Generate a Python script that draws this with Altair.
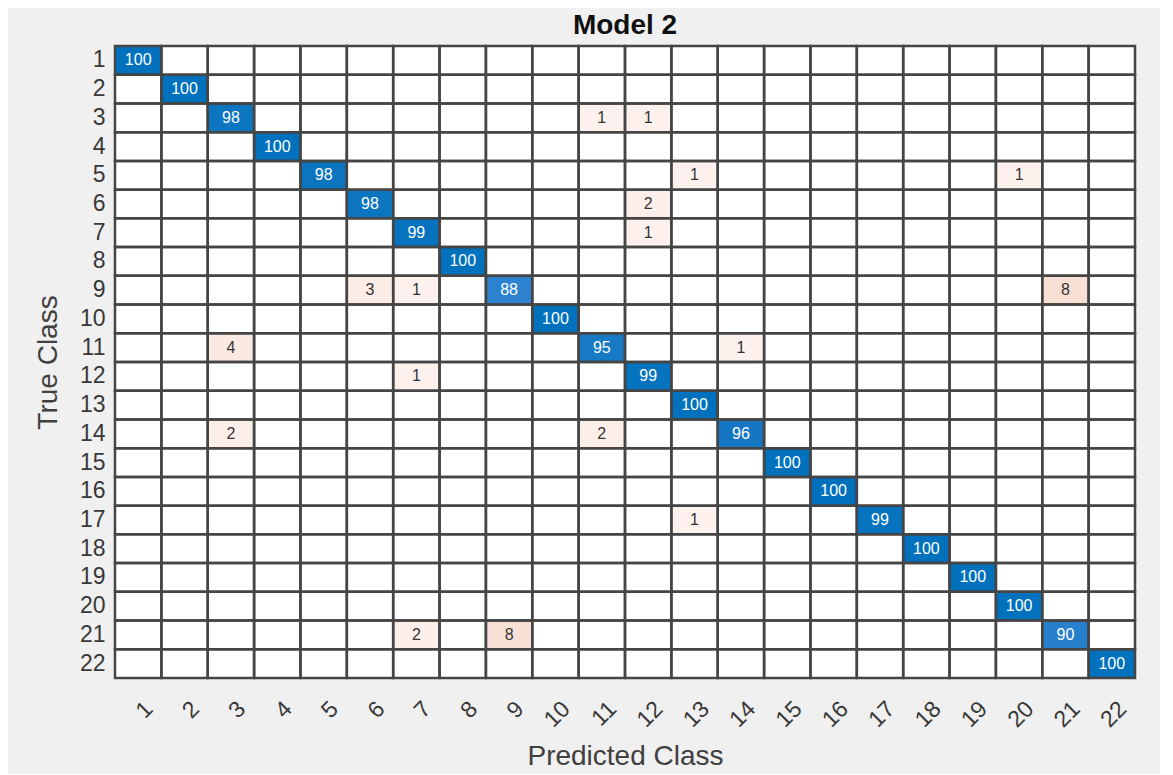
import altair as alt
import pandas as pd

classes = [str(i) for i in range(1, 23)]
diag_values = [100, 100, 98, 100, 98, 98, 99, 100, 88, 100, 95, 99, 100, 96,
               100, 100, 99, 100, 100, 100, 90, 100]
off_true = [3, 3, 5, 5, 6, 7, 9, 9, 9, 11, 11, 12, 14, 14, 17, 21, 21]
off_pred = [11, 12, 13, 20, 12, 12, 6, 7, 21, 3, 14, 7, 3, 11, 13, 7, 9]
off_values = [1, 1, 1, 1, 2, 1, 3, 1, 8, 4, 1, 1, 2, 2, 1, 2, 8]

FONT = "Liberation Sans"

grid = pd.DataFrame([{"true": t, "pred": p} for t in classes for p in classes])
diag = pd.DataFrame({"true": classes, "pred": classes, "value": diag_values})
off = pd.DataFrame({"true": [str(v) for v in off_true],
                    "pred": [str(v) for v in off_pred],
                    "value": off_values})

x_enc = alt.X(
    "pred:O", sort=classes,
    scale=alt.Scale(paddingInner=0, paddingOuter=0),
    axis=alt.Axis(
        title="Predicted Class", labelAngle=315, labelAlign="right",
        labelBaseline="middle", labelPadding=27, labelOffset=11,
        ticks=False, domain=False, grid=False, labelOverlap=False,
        labelFont=FONT, labelFontSize=23, labelColor="#383838",
        titleFont=FONT, titleFontSize=28, titleFontWeight="normal",
        titleColor="#404040", titleX=510, titleY=86, titleAlign="center",
        titleBaseline="alphabetic",
    ),
)
y_enc = alt.Y(
    "true:O", sort=classes,
    scale=alt.Scale(paddingInner=0, paddingOuter=0),
    axis=alt.Axis(
        title="True Class", labelPadding=10, ticks=False, domain=False,
        grid=False, labelOverlap=False,
        labelFont=FONT, labelFontSize=23, labelColor="#383838",
        titleFont=FONT, titleFontSize=28, titleFontWeight="normal",
        titleColor="#404040", titleAngle=270, titleX=-67, titleY=316,
        titleAlign="center", titleBaseline="middle",
    ),
)

diag_rect = alt.Chart(diag).mark_rect().encode(
    x=x_enc, y=y_enc,
    color=alt.Color("value:Q", legend=None,
                    scale=alt.Scale(domain=[0, 100], range=["#ffffff", "#0072BD"])),
)
off_rect = alt.Chart(off).mark_rect().encode(
    x=x_enc, y=y_enc,
    color=alt.Color("value:Q", legend=None,
                    scale=alt.Scale(domain=[1, 8], range=["#fcf1ec", "#f9e0d5"])),
)
grid_rect = alt.Chart(grid).mark_rect(
    fillOpacity=0, stroke="#454545", strokeWidth=2.5
).encode(x=x_enc, y=y_enc)

diag_text = alt.Chart(diag).mark_text(
    font=FONT, fontSize=16, color="#ffffff"
).encode(x=x_enc, y=y_enc, text="value:Q")
off_text = alt.Chart(off).mark_text(
    font=FONT, fontSize=16, color="#333333"
).encode(x=x_enc, y=y_enc, text="value:Q")

chart = alt.layer(diag_rect, off_rect, grid_rect, diag_text, off_text).resolve_scale(
    color="independent"
).properties(
    width=1020, height=632,
    padding={"left": 107, "top": 38, "right": 25, "bottom": 96},
    autosize=alt.AutoSizeParams(type="none"),
    background="#f0f0f0",
    title=alt.TitleParams("Model 2", font=FONT, fontSize=28, fontWeight="bold",
                          color="#111111", anchor="middle", frame="group",
                          offset=5),
).configure_view(stroke=None, fill="#ffffff")

chart.save("out.html", embed_options={"renderer": "svg", "actions": False})
